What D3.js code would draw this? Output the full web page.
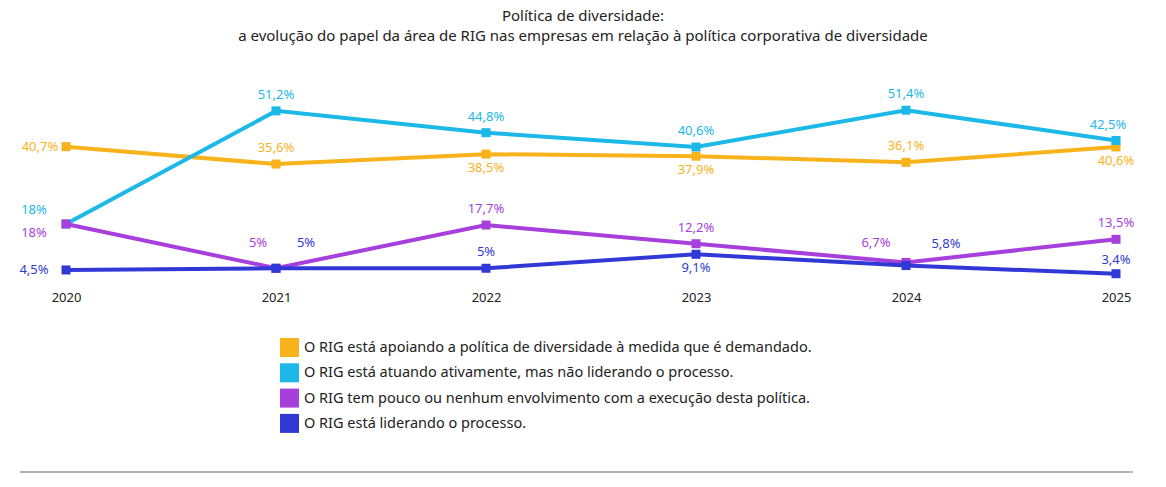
<!DOCTYPE html><html><head><meta charset="utf-8"><script src="https://cdn.jsdelivr.net/npm/d3@7"></script>
<style>body{margin:0;background:#fff;font-family:"Noto Sans",sans-serif}</style></head><body><svg id="c" width="1166" height="487"></svg>
<script>
const years=["2020","2021","2022","2023","2024","2025"];
const apoiando=[40.7,35.6,38.5,37.9,36.1,40.6];
const atuando=[18,51.2,44.8,40.6,51.4,42.5];
const pouco=[18,5,17.7,12.2,6.7,13.5];
const liderando=[4.5,5,5,9.1,5.8,3.4];
const legendLabels=["O RIG está apoiando a política de diversidade à medida que é demandado.","O RIG está atuando ativamente, mas não liderando o processo.","O RIG tem pouco ou nenhum envolvimento com a execução desta política.","O RIG está liderando o processo."];
const colors=["#f8b31c","#1bb8e8","#a63fdc","#3039d6"];
// label offsets [dx,dy,anchor] per series per year
const off=[
 [[-26,4,"middle"],[0,-12,"middle"],[0,18,"middle"],[0,18,"middle"],[0,-12,"middle"],[0,18,"middle"]],
 [[-32,-10,"middle"],[0,-12,"middle"],[0,-12,"middle"],[0,-12,"middle"],[0,-12,"middle"],[-8,-12,"middle"]],
 [[-32,13,"middle"],[-18,-21,"middle"],[0,-12,"middle"],[0,-12,"middle"],[-30,-15,"middle"],[0,-12,"middle"]],
 [[-32,4,"middle"],[30,-21,"middle"],[0,-12,"middle"],[0,18,"middle"],[40,-18,"middle"],[0,-10,"middle"]]];
const svg=d3.select("#c");
const x=d3.scalePoint().domain(years).range([66,1116]);
const y=d3.scaleLinear().domain([0,60]).range([285.3,80.9]);
svg.append("text").attr("x",583).attr("y",21).attr("text-anchor","middle").attr("font-size",15).attr("fill","#222").text("Política de diversidade:");
svg.append("text").attr("x",583).attr("y",41).attr("text-anchor","middle").attr("font-size",15).attr("fill","#222").text("a evolução do papel da área de RIG nas empresas em relação à política corporativa de diversidade");
const ax=svg.append("g").attr("transform","translate(0,285)").call(d3.axisBottom(x).tickSize(0).tickPadding(8));
ax.select(".domain").remove();
ax.selectAll("text").attr("font-size",13).attr("fill","#222").attr("font-family","Noto Sans");
const series=[apoiando,atuando,pouco,liderando];
const line=d3.line().x((d,i)=>x(years[i])).y(d=>y(d));
series.forEach((s,k)=>{
 svg.append("path").attr("d",line(s)).attr("fill","none").attr("stroke",colors[k]).attr("stroke-width",4);
 svg.selectAll(null).data(s).enter().append("rect").attr("x",(d,i)=>x(years[i])-4.5).attr("y",d=>y(d)-4.5).attr("width",9).attr("height",9).attr("fill",colors[k]);
 svg.selectAll(null).data(s).enter().append("text").attr("x",(d,i)=>x(years[i])+off[k][i][0]).attr("y",(d,i)=>y(d)+off[k][i][1]).attr("text-anchor",(d,i)=>off[k][i][2]).attr("font-size",13).attr("fill",colors[k]).text(d=>String(d).replace(".",",")+"%");
});
legendLabels.forEach((t,i)=>{
 const yy=347+i*25.3;
 svg.append("rect").attr("x",280).attr("y",yy-9).attr("width",19).attr("height",19).attr("fill",colors[i]);
 svg.append("text").attr("x",304).attr("y",yy+5).attr("font-size",14.5).attr("fill","#222").text(t);
});
svg.append("line").attr("x1",20).attr("x2",1133).attr("y1",472).attr("y2",472).attr("stroke","#999").attr("stroke-width",1.5);
</script></body></html>
